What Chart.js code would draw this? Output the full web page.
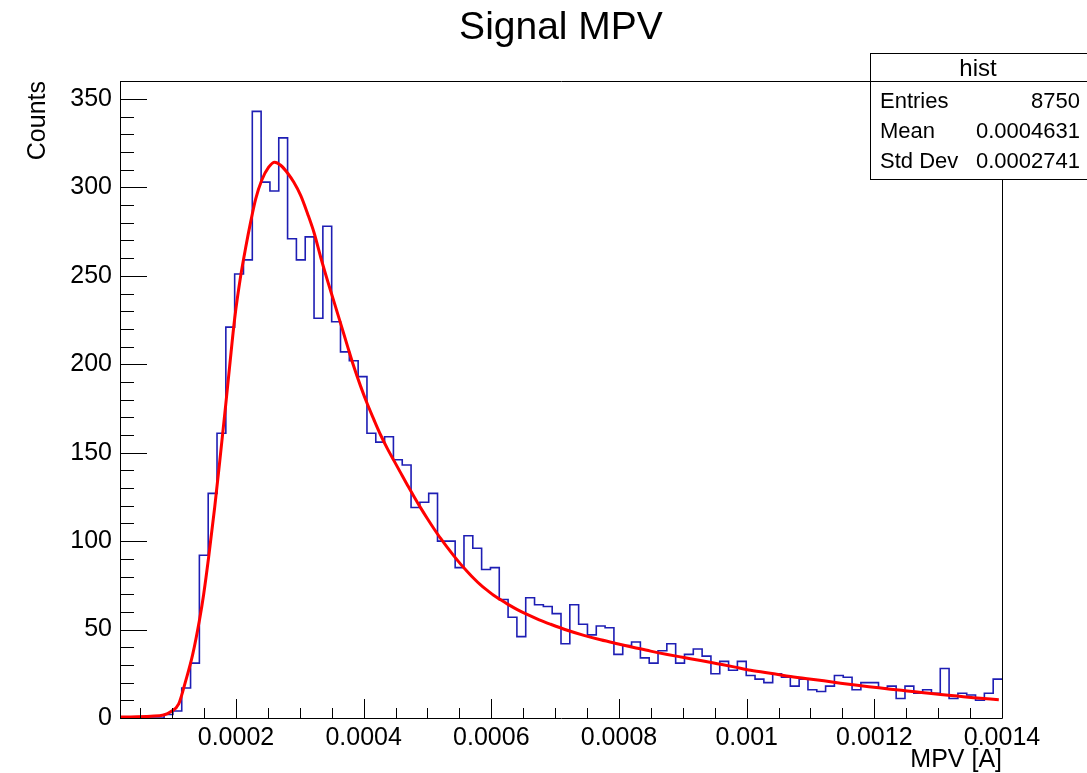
<!DOCTYPE html>
<html><head><meta charset="utf-8">
<script src="https://cdn.jsdelivr.net/npm/chart.js@4.4.1/dist/chart.umd.min.js"></script>
<style>html,body{margin:0;padding:0;background:#fff;}#wrap{width:1087px;height:773px;position:relative;}</style>
</head><body><div id="wrap"><canvas id="c" width="1087" height="773"></canvas></div>
<script>
const chartTitle = 'Signal MPV';
const xAxisTitle = 'MPV [A]';
const yAxisTitle = 'Counts';
const xRange = [0.0000183, 0.0014];
const yMax = 360.15;
const nBins = 100;
const binCounts = [0,0,0,0,0,2,4,17,31,92,
  127,161,221,251,259,343,303,298,328,271,
  259,272,226,278,224,207,202,193,161,156,
  159,146,143,119,122,127,100,100,85,103,
  96,84,85,67,57,46,68,64,63,59,
  42,64,53,47,52,51,36,41,43,34,
  31,38,42,31,36,39,35,25,32,27,
  32,24,22,20,25,23,18,22,16,15,
  18,24,23,16,20,20,17,18,11,18,
  14,16,14,28,11,14,13,10,14,22];
const fitX = [0.0000194,0.0000664,0.0000868,0.0000977,0.0001103,0.0001212,0.0001322,0.0001431,0.0001494,0.0001572,
  0.0001666,0.0001745,0.0001839,0.0001901,0.000198,0.0002074,0.0002152,0.000223,0.0002309,0.0002403,
  0.0002512,0.0002606,0.00027,0.000281,0.0002904,0.0003013,0.0003123,0.0003222,0.0003327,0.0003436,
  0.000353,0.000364,0.0003749,0.0003843,0.0003953,0.0004058,0.0004157,0.0004266,0.0004376,0.000447,
  0.000458,0.0004689,0.0004783,0.0004893,0.0005002,0.0005096,0.0005206,0.0005316,0.000541,0.0005519,
  0.0005629,0.0005723,0.0005832,0.0005942,0.0006036,0.0006146,0.0006255,0.0006407,0.0006569,0.000675,
  0.0006929,0.000719,0.000745,0.0007712,0.0007973,0.0008233,0.0008495,0.0008757,0.0009016,0.0009278,
  0.000954,0.00098,0.0010061,0.0010426,0.0010688,0.0010949,0.0011209,0.0011471,0.0011732,0.0011992,
  0.0012254,0.0012515,0.0012775,0.0013037,0.0013299,0.0013558,0.001395];
const fitY = [0.5,1,1.7,3.5,8,21,36,56,70,91,
  119,145,177,199,226,250,266,280.5,293.5,304,
  311.4,314.2,312.5,308,303,295.5,285,274.5,260.5,247,
  236,223,210,199,187.5,177.5,169,160,152,145.8,
  138.6,131.5,125.5,118.8,112.5,107.3,101.5,96.2,91.8,87,
  82.6,79,75.2,72,69.4,66.8,64.4,61.3,58.4,55.5,
  53,49.6,46.7,44.2,42,39.9,37.8,35.9,34.2,32.5,
  30.7,28.9,27,25,23.5,22.2,21,19.7,18.5,17.4,
  16.3,15.3,14.3,13.3,12.4,11.5,10.3];
const xTickValues = [0.0002,0.0004,0.0006,0.0008,0.001,0.0012,0.0014];
const xTickLabels = ['0.0002','0.0004','0.0006','0.0008','0.001','0.0012','0.0014'];
const yTickValues = [0,50,100,150,200,250,300,350];
const yTickLabels = ['0','50','100','150','200','250','300','350'];
const statsTitle = 'hist';
const statsLabels = ['Entries','Mean','Std Dev'];
const statsValues = ['8750','0.0004631','0.0002741'];

const FONT = '"Liberation Sans", Arial, Helvetica, sans-serif';
const binW = (xRange[1]-xRange[0])/nBins;
const histPts = binCounts.map((c,i)=>({x: xRange[0]+i*binW, y: c}));
histPts.push({x: xRange[1], y: binCounts[nBins-1]});
const fitPts = fitX.map((x,i)=>({x, y: fitY[i]}));

const rootPlugin = {
  id: 'rootFrame',
  afterDatasetsDraw(chart) {
    const {ctx, chartArea: a, scales} = chart;
    const xs = scales.x, ys = scales.y;
    ctx.save();
    ctx.strokeStyle = '#000'; ctx.lineWidth = 1;
    ctx.beginPath();
    ctx.rect(Math.round(a.left)+0.5, Math.round(a.top)+0.5, Math.round(a.right-a.left), Math.round(a.bottom-a.top));
    ctx.stroke();
    ctx.beginPath();
    for (let v = 0; v <= yMax; v += 10) {
      const y = Math.round(ys.getPixelForValue(v)) + 0.5;
      const len = (v % 50 === 0) ? 27 : 14;
      ctx.moveTo(a.left, y); ctx.lineTo(a.left + len, y);
    }
    for (let k = 1; k * 0.00005 <= xRange[1] + 1e-12; k++) {
      const v = k * 0.00005;
      if (v < xRange[0]) continue;
      const x = Math.round(xs.getPixelForValue(v)) + 0.5;
      const len = (k % 4 === 0) ? 19 : 10;
      ctx.moveTo(x, a.bottom); ctx.lineTo(x, a.bottom - len);
    }
    ctx.stroke();
    ctx.restore();
  },
  afterDraw(chart) {
    const ctx = chart.ctx;
    ctx.save();
    const bx = 870.5, by = 53.5, bw = 222, bh = 126;
    ctx.fillStyle = '#fff';
    ctx.fillRect(bx, by, bw, bh);
    ctx.strokeStyle = '#000'; ctx.lineWidth = 1;
    ctx.strokeRect(bx, by, bw, bh);
    ctx.beginPath(); ctx.moveTo(bx, 81.5); ctx.lineTo(bx + bw, 81.5); ctx.stroke();
    ctx.fillStyle = '#000';
    ctx.textBaseline = 'middle';
    ctx.textAlign = 'center';
    ctx.font = '24px ' + FONT;
    ctx.fillText(statsTitle, 978, 69);
    ctx.font = '22px ' + FONT;
    const rows = [102, 132, 162];
    statsLabels.forEach((l, i) => {
      ctx.textAlign = 'left'; ctx.fillText(l, 880, rows[i]);
      ctx.textAlign = 'right'; ctx.fillText(statsValues[i], 1080, rows[i]);
    });
    ctx.restore();
  }
};

new Chart(document.getElementById('c'), {
  type: 'line',
  data: {
    datasets: [
      {label: 'fit', data: fitPts, borderColor: '#ff0000', borderWidth: 3, pointRadius: 0,
       cubicInterpolationMode: 'monotone', fill: false},
      {label: 'hist', data: histPts, borderColor: '#1e1eb4', borderWidth: 1.6, pointRadius: 0,
       stepped: 'before', fill: false, borderJoinStyle: 'miter'}
    ]
  },
  options: {
    responsive: false,
    animation: false,
    devicePixelRatio: 1,
    layout: {padding: {left: 0, right: 85, top: 0, bottom: 0}},
    plugins: {
      legend: {display: false},
      tooltip: {enabled: false},
      title: {display: true, fullSize: false, text: chartTitle, color: '#000',
        font: {family: FONT, size: 39, weight: 'normal', lineHeight: 1.2},
        padding: {top: 5.3, bottom: 28.9}}
    },
    scales: {
      x: {
        type: 'linear', min: xRange[0], max: xRange[1],
        grid: {display: false, drawTicks: false},
        border: {display: false},
        afterBuildTicks: s => { s.ticks = xTickValues.map(v => ({value: v})); },
        afterFit: s => { s.height = 55; },
        ticks: {autoSkip: false, maxRotation: 0, minRotation: 0, padding: 5, color: '#000',
          font: {family: FONT, size: 25},
          callback: (v, i) => xTickLabels[i]},
        title: {display: true, text: xAxisTitle, align: 'end', color: '#000',
          font: {family: FONT, size: 25, lineHeight: 1}, padding: {top: 0, bottom: 0}}
      },
      y: {
        type: 'linear', min: 0, max: yMax,
        grid: {display: false, drawTicks: false},
        border: {display: false},
        afterBuildTicks: s => { s.ticks = yTickValues.map(v => ({value: v})); },
        afterFit: s => { s.width = 120; },
        ticks: {autoSkip: false, padding: 8, color: '#000',
          font: {family: FONT, size: 25},
          callback: (v, i) => yTickLabels[i]},
        title: {display: true, text: yAxisTitle, align: 'end', color: '#000',
          font: {family: FONT, size: 25, lineHeight: 1}, padding: {top: 26, bottom: 0}}
      }
    }
  },
  plugins: [rootPlugin]
});
</script>
</body></html>
